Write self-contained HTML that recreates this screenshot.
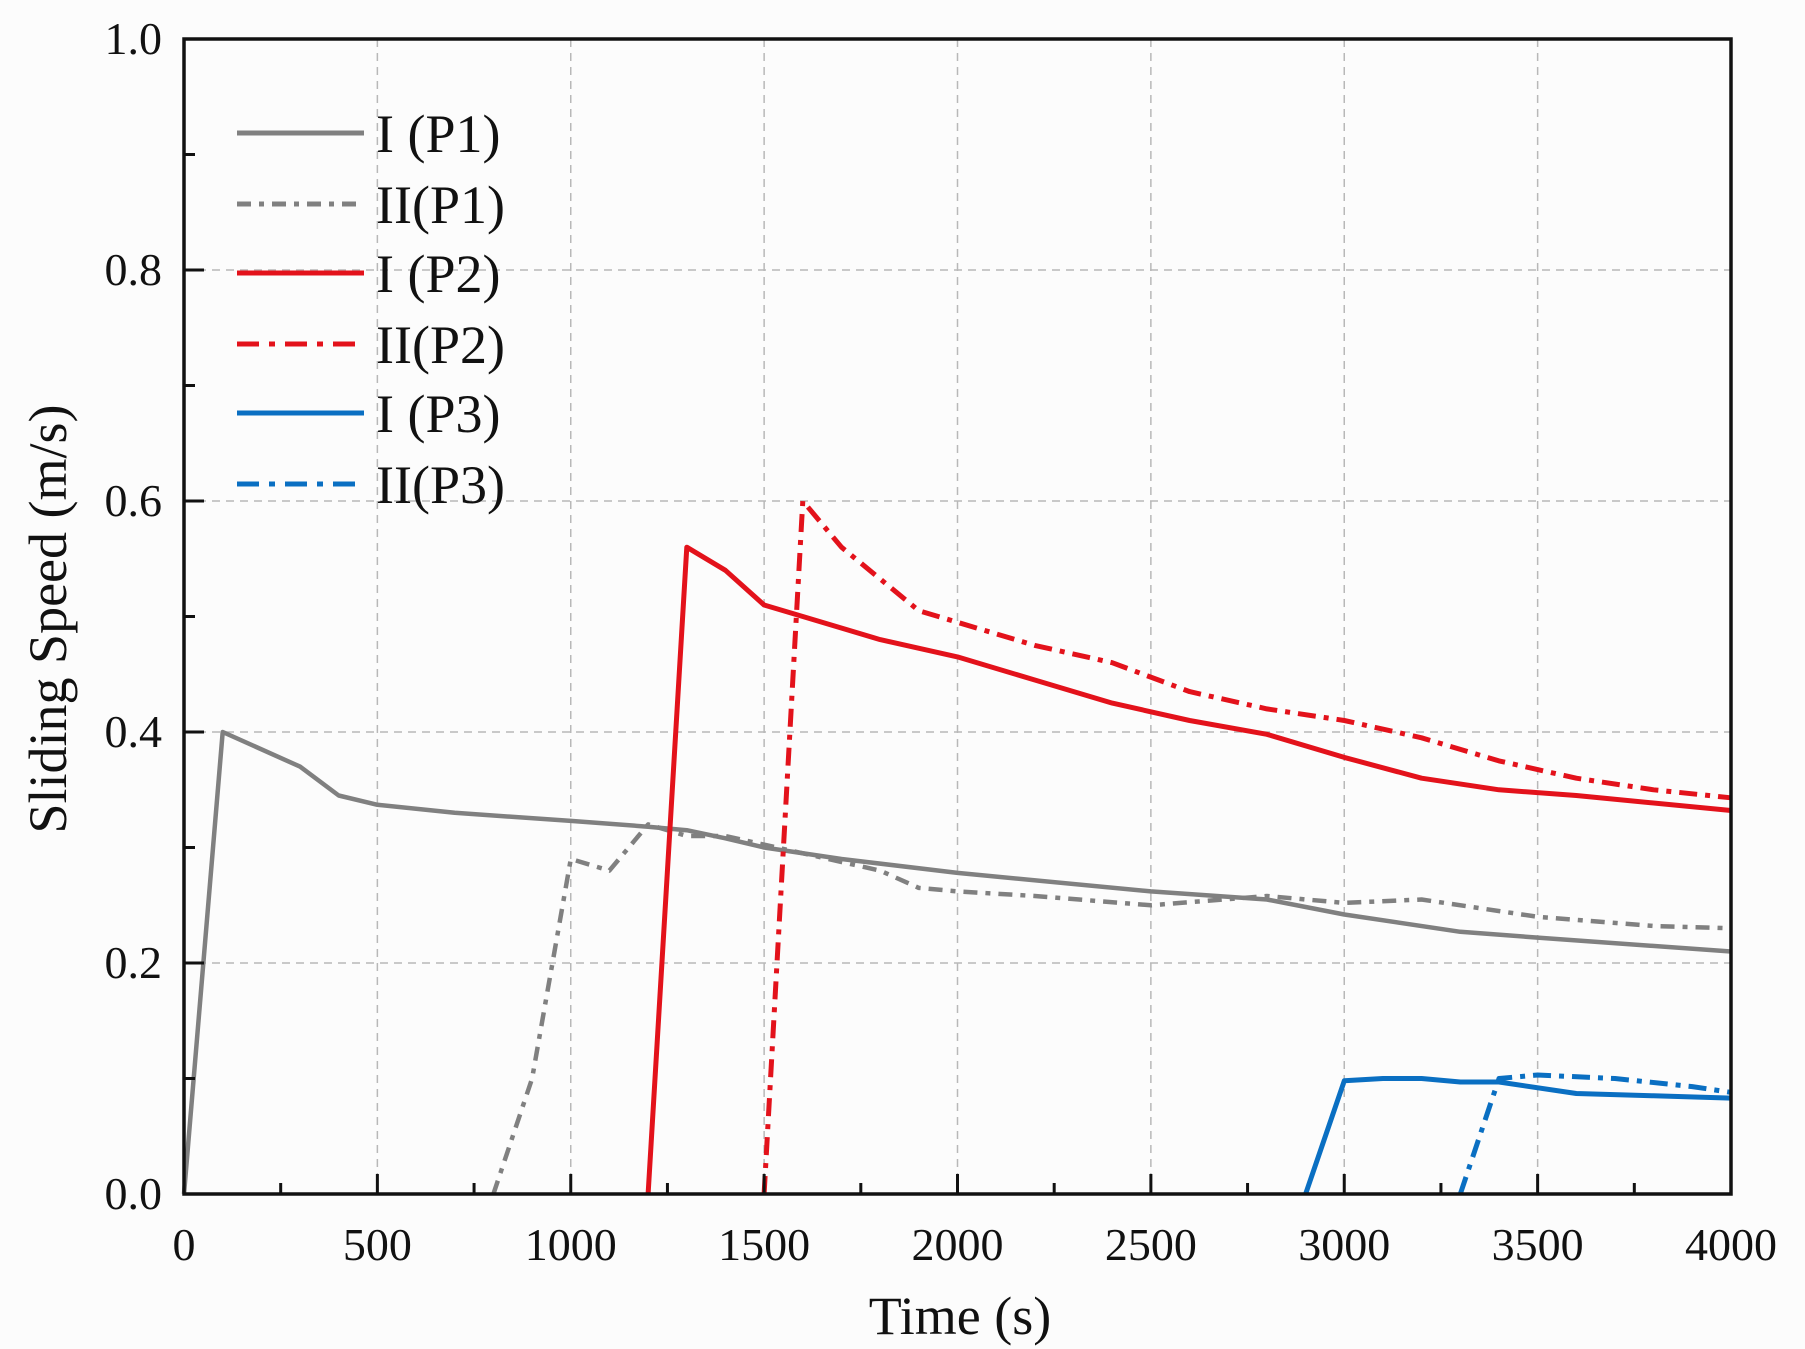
<!DOCTYPE html>
<html><head><meta charset="utf-8"><style>
html,body{margin:0;padding:0;background:#fcfcfc;}
svg{display:block;font-family:"Liberation Serif",serif;}
</style></head><body>
<svg id="chart" width="1805" height="1349" viewBox="0 0 1805 1349">
<rect x="0" y="0" width="1805" height="1349" fill="#fcfcfc"/>
<g id="grid"></g>
<g id="series"></g>
<g id="axes"></g>
<g id="legend"></g>
</svg>
<script>
const xTicks=[0,500,1000,1500,2000,2500,3000,3500,4000];
const yTicks=[0.0,0.2,0.4,0.6,0.8,1.0];
const yTickLabels=["0.0","0.2","0.4","0.6","0.8","1.0"];
const seriesNames=["I (P1)","II(P1)","I (P2)","II(P2)","I (P3)","II(P3)"];
const seriesColors=["#808080","#808080","#e3121b","#e3121b","#0a6fc2","#0a6fc2"];
const seriesDash=["","14 8 5 8","","18 8 5 8","","18 8 5 8"];
const p1aT=[0,100,300,400,500,700,1000,1200,1300,1400,1500,1700,2000,2500,2800,3000,3300,3500,4000];
const p1aV=[0,0.40,0.37,0.345,0.337,0.33,0.323,0.318,0.315,0.308,0.30,0.29,0.278,0.262,0.255,0.242,0.227,0.222,0.21];
const p1bT=[800,900,1000,1100,1200,1300,1400,1600,1800,1900,2000,2200,2500,2800,3000,3200,3500,3800,4000];
const p1bV=[0,0.10,0.29,0.28,0.32,0.31,0.31,0.295,0.28,0.265,0.262,0.258,0.25,0.258,0.252,0.255,0.24,0.232,0.23];
const p2aT=[1200,1300,1400,1500,1600,1800,2000,2200,2400,2600,2800,3000,3200,3400,3600,4000];
const p2aV=[0,0.56,0.54,0.51,0.50,0.48,0.465,0.445,0.425,0.41,0.398,0.378,0.36,0.35,0.345,0.332];
const p2bT=[1500,1600,1700,1900,2000,2200,2400,2600,2800,3000,3200,3400,3600,3800,4000];
const p2bV=[0,0.60,0.56,0.505,0.495,0.475,0.46,0.435,0.42,0.41,0.395,0.375,0.36,0.35,0.343];
const p3aT=[2900,3000,3100,3200,3300,3400,3600,3800,4000];
const p3aV=[0,0.098,0.10,0.10,0.097,0.097,0.087,0.085,0.083];
const p3bT=[3300,3400,3500,3700,3900,4000];
const p3bV=[0,0.10,0.103,0.10,0.093,0.088];

const L=184,R=1731,T=39,B=1194;
const xs=t=>L+(t/4000)*(R-L);
const ys=v=>B-(v/1.0)*(B-T);
const NS="http://www.w3.org/2000/svg";
function mk(tag,attrs,parent){const e=document.createElementNS(NS,tag);for(const k in attrs)e.setAttribute(k,attrs[k]);parent.appendChild(e);return e;}
const grid=document.getElementById('grid'),axes=document.getElementById('axes'),ser=document.getElementById('series'),leg=document.getElementById('legend');

xTicks.forEach((t,i)=>{
 if(i>0&&i<xTicks.length-1){const g=mk('line',{x1:xs(t),x2:xs(t),y1:T,y2:B,stroke:'#b8b8b8','stroke-width':1.5,'stroke-dasharray':'8 6'},grid);
 
 }
 const tk=mk('line',{x1:xs(t),x2:xs(t),y1:B,y2:B-20,stroke:'#111','stroke-width':3},axes);
 
 
 if(i<xTicks.length-1){const m=mk('line',{x1:xs(t+250),x2:xs(t+250),y1:B,y2:B-11,stroke:'#111','stroke-width':3},axes);
 
 }
 const lb=mk('text',{x:xs(t),y:B+66,'text-anchor':'middle','font-size':46,fill:'#111'},axes);lb.textContent=String(t);
 
 
});
yTicks.forEach((v,i)=>{
 if(i>0&&i<yTicks.length-1){const g=mk('line',{x1:L,x2:R,y1:ys(v),y2:ys(v),stroke:'#b8b8b8','stroke-width':1.5,'stroke-dasharray':'8 6'},grid);
 
 }
 const tk=mk('line',{x1:L,x2:L+20,y1:ys(v),y2:ys(v),stroke:'#111','stroke-width':3},axes);
 
 
 if(i<yTicks.length-1){const m=mk('line',{x1:L,x2:L+11,y1:ys(v+0.1),y2:ys(v+0.1),stroke:'#111','stroke-width':3},axes);
 
 }
 const lb=mk('text',{x:L-22,y:ys(v)+15,'text-anchor':'end','font-size':46,fill:'#111'},axes);lb.textContent=yTickLabels[i];
 
 
});
const frame=mk('rect',{x:L,y:T,width:R-L,height:B-T,fill:'none',stroke:'#111','stroke-width':3.5},axes);


const xt=mk('text',{x:960,y:1334,'text-anchor':'middle','font-size':54,fill:'#111'},axes);xt.textContent='Time (s)';


const yt=mk('text',{x:0,y:0,'text-anchor':'middle','font-size':54,fill:'#111',transform:'translate(66,619) rotate(-90)'},axes);yt.textContent='Sliding Speed (m/s)';



const allT=[p1aT,p1bT,p2aT,p2bT,p3aT,p3bT],allV=[p1aV,p1bV,p2aV,p2bV,p3aV,p3bV];
const ids=['line-i-p1','line-ii-p1','line-i-p2','line-ii-p2','line-i-p3','line-ii-p3'];
allT.forEach((ts,k)=>{
 const d=ts.map((t,j)=>(j?'L':'M')+xs(t).toFixed(1)+','+ys(allV[k][j]).toFixed(1)).join(' ');
 const a={d:d,fill:'none',stroke:seriesColors[k],'stroke-width':k<2?4.5:5,'stroke-linejoin':'round'};
 if(seriesDash[k])a['stroke-dasharray']=seriesDash[k];
 const p=mk('path',a,ser);
 
 
});
const legY=[133,204,273,344,413,484];
seriesNames.forEach((n,k)=>{
 const a={x1:237,x2:364,y1:legY[k],y2:legY[k],stroke:seriesColors[k],'stroke-width':5};
 if(seriesDash[k])a['stroke-dasharray']=k==1?'14 8 5 8':'22 10 6 10';
 const l=mk('line',a,leg);
 
 
 const tx=mk('text',{x:376,y:legY[k]+19,'font-size':54,fill:'#111'},leg);tx.textContent=n;
 
 
});
</script>
</body></html>
